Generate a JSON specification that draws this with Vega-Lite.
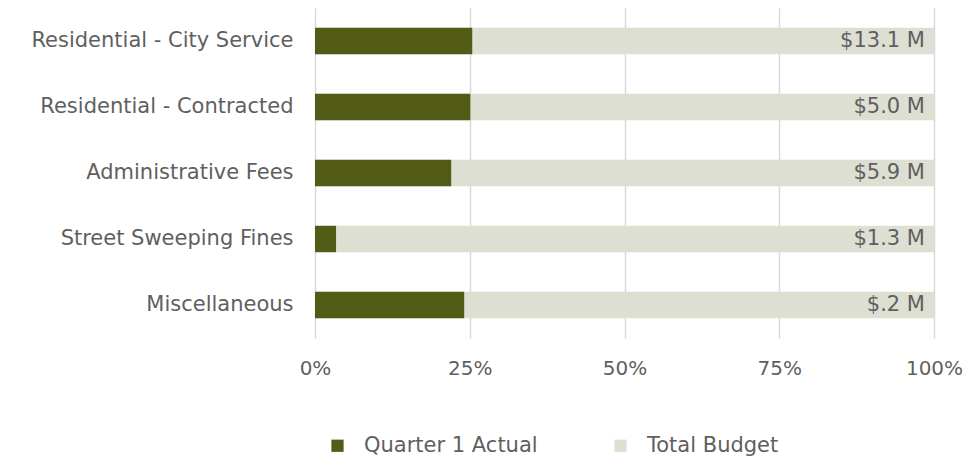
{
  "$schema": "https://vega.github.io/schema/vega-lite/v6.json",
  "width": 619,
  "height": 330,
  "autosize": {"type": "none"},
  "padding": {"left": 315, "top": 8, "right": 29, "bottom": 121},
  "background": "white",
  "config": {
    "view": {"stroke": null},
    "font": "DejaVu Sans",
    "axis": {"labelFont": "DejaVu Sans", "labelColor": "#5f5f5f", "labelFontSize": 21, "titleFontSize": 0, "labelLimit": 400},
    "legend": {"labelFont": "DejaVu Sans", "labelColor": "#5f5f5f", "labelFontSize": 21, "labelLimit": 400}
  },
  "data": {
    "values": [
      {"category": "Residential - City Service", "Quarter 1 Actual": 0.254, "Total Budget": 1, "budget": "$13.1 M"},
      {"category": "Residential - Contracted", "Quarter 1 Actual": 0.251, "Total Budget": 1, "budget": "$5.0 M"},
      {"category": "Administrative Fees", "Quarter 1 Actual": 0.22, "Total Budget": 1, "budget": "$5.9 M"},
      {"category": "Street Sweeping Fines", "Quarter 1 Actual": 0.034, "Total Budget": 1, "budget": "$1.3 M"},
      {"category": "Miscellaneous", "Quarter 1 Actual": 0.241, "Total Budget": 1, "budget": "$.2 M"}
    ]
  },
  "encoding": {
    "y": {
      "field": "category",
      "type": "nominal",
      "sort": null,
      "scale": {"paddingInner": 0.6, "paddingOuter": 0.3},
      "axis": {"title": null, "domain": false, "ticks": false, "labelPadding": 22, "grid": false}
    }
  },
  "layer": [
    {
      "transform": [{"fold": ["Total Budget", "Quarter 1 Actual"], "as": ["series", "pct"]}],
      "mark": {"type": "bar"},
      "encoding": {
        "x": {
          "field": "pct",
          "type": "quantitative",
          "stack": null,
          "scale": {"domain": [0, 1], "nice": false},
          "axis": {
            "title": null,
            "format": ".0%",
            "values": [0, 0.25, 0.5, 0.75, 1],
            "domain": false,
            "ticks": false,
            "grid": true,
            "gridColor": "#d9d9d9",
            "gridWidth": 1.5,
            "labelPadding": 20,
            "labelFontSize": 20,
            "labelFlush": false
          }
        },
        "color": {
          "field": "series",
          "type": "nominal",
          "scale": {"domain": ["Quarter 1 Actual", "Total Budget"], "range": ["#525C16", "#DDDFD2"]},
          "legend": {
            "title": null,
            "orient": "none",
            "direction": "horizontal",
            "legendX": 12,
            "legendY": 427,
            "symbolType": "square",
            "symbolSize": 150,
            "symbolStrokeWidth": 0,
            "labelOffset": 16,
            "columnPadding": 72
          }
        }
      }
    },
    {
      "mark": {"type": "text", "align": "right", "baseline": "middle", "dx": -9, "fontSize": 21, "color": "#5f5f5f", "font": "DejaVu Sans"},
      "encoding": {
        "x": {"field": "Total Budget", "type": "quantitative"},
        "text": {"field": "budget"}
      }
    }
  ]
}
